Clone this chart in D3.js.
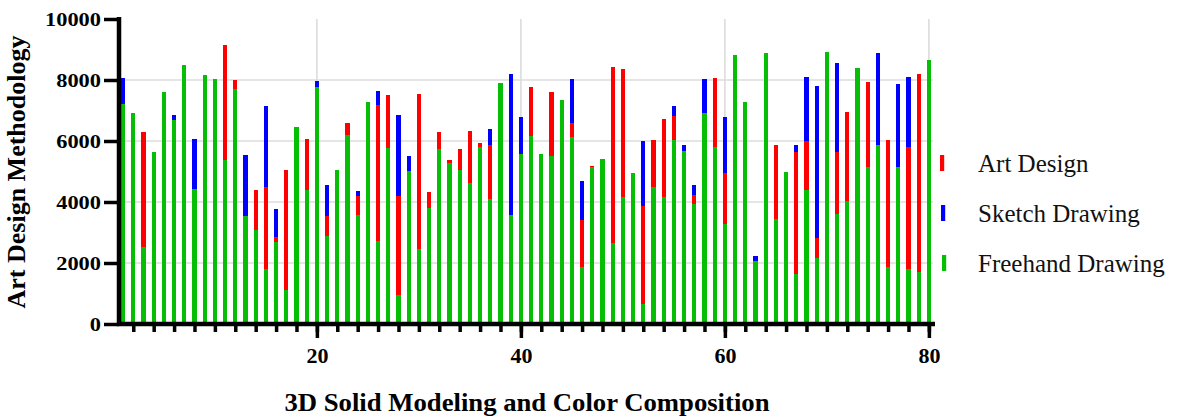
<!DOCTYPE html>
<html>
<head>
<meta charset="utf-8">
<script src="https://cdn.jsdelivr.net/npm/d3@7"></script>
<style>
  html, body { margin: 0; padding: 0; background: #ffffff; }
  svg { display: block; }
</style>
</head>
<body>
<svg id="chart" width="1178" height="417"></svg>
<script>
// ---- data ----
const categories = d3.range(1, 81);
const seriesNames = ["Art Design", "Sketch Drawing", "Freehand Drawing"];
const seriesColors = ["#ff0000", "#0000ff", "#06be06"];

const freehandDrawing = [
  7210, 6920, 2520, 5640, 7610, 6690, 8490, 4430, 8160, 8030,
  5380, 7690, 3540, 3090, 1800, 2690, 1110, 6460, 4390, 7770,
  2890, 5050, 6200, 3570, 7280, 2720, 5780, 950, 5020, 2460,
  3800, 5740, 5280, 5050, 4620, 5800, 4100, 7900, 3570, 5570,
  6160, 5570, 5510, 7340, 6130, 1870, 5150, 5410, 2660, 4160,
  4950, 660, 4490, 4160, 6030, 5670, 3930, 6920, 5800, 3280,
  8820, 7280, 2070, 8890, 3440, 4980, 1640, 4390, 2160, 8920,
  3610, 4030, 8390, 5150, 5870, 1870, 5150, 1800, 1700, 8660
];
const sketchDrawing = [
  8070, 3100, 4800, 2900, 5300, 6850, 5800, 6070, 3500, 6200,
  6620, 5100, 5540, 2800, 7150, 3770, 4100, 3800, 5200, 7970,
  4560, 2700, 3300, 4360, 4600, 7640, 6900, 6850, 5510, 5600,
  3100, 4900, 2300, 4300, 5000, 3700, 6390, 5200, 8200, 6790,
  5100, 3600, 4000, 6100, 8030, 4690, 2500, 4400, 6300, 7200,
  3800, 6000, 3900, 5500, 7150, 5870, 4560, 8030, 6700, 6790,
  5600, 3970, 2230, 6400, 4700, 3900, 5870, 8100, 7800, 7400,
  8560, 5800, 4800, 7000, 8890, 5200, 7870, 8100, 6900, 6300
];
const artDesign = [
  4200, 5200, 6300, 4100, 3600, 2400, 6100, 3900, 7300, 4700,
  9150, 8000, 2600, 4390, 4490, 2850, 5050, 5500, 6070, 4300,
  3540, 4400, 6590, 4210, 5900, 7180, 7510, 4210, 3300, 7540,
  4330, 6300, 5380, 5740, 6330, 5930, 5870, 6400, 2900, 3800,
  7770, 4800, 7610, 5200, 6590, 3410, 5180, 3900, 8430, 8360,
  2700, 3870, 6030, 6720, 6820, 3400, 4230, 5100, 8070, 4950,
  7100, 3110, 1500, 4500, 5870, 2600, 5640, 6000, 2820, 6300,
  5640, 6950, 6600, 7930, 4200, 6030, 3900, 5800, 8200, 7500
];
const yTickValues = [0, 2000, 4000, 6000, 8000, 10000];
const xMajorTicks = [20, 40, 60, 80];
const xMinorTicks = d3.range(2, 81, 2);

// ---- layout ----
const svg = d3.select("#chart");
const x = d3.scaleLinear().domain([0.6, 80.6]).range([119, 935]);
const y = d3.scaleLinear().domain([0, 10000]).range([324, 19]);
const barW = 4.2;
const serif = "'Liberation Serif', 'Times New Roman', serif";

// gridlines
const grid = svg.append("g");
grid.selectAll("line.h").data(yTickValues.filter(v => v > 0 && v < 10000)).enter()
  .append("line")
  .attr("x1", x.range()[0]).attr("x2", 933)
  .attr("y1", d => y(d)).attr("y2", d => y(d))
  .attr("stroke", "#dcdcdc").attr("stroke-width", 1.6);
grid.selectAll("line.v").data(xMajorTicks).enter()
  .append("line")
  .attr("x1", d => x(d)).attr("x2", d => x(d))
  .attr("y1", y(10000)).attr("y2", y(0))
  .attr("stroke", "#dcdcdc").attr("stroke-width", 1.6);

// bars (overlapping, drawn from zero): blue behind, red, green in front
const layers = [
  { values: sketchDrawing, color: seriesColors[1] },
  { values: artDesign, color: seriesColors[0] },
  { values: freehandDrawing, color: seriesColors[2] }
];
layers.forEach(layer => {
  svg.append("g").selectAll("rect").data(categories).enter()
    .append("rect")
    .attr("x", d => x(d) - barW / 2)
    .attr("width", barW)
    .attr("y", (d, i) => y(layer.values[i]))
    .attr("height", (d, i) => y(0) - y(layer.values[i]))
    .attr("fill", layer.color)
    .attr("shape-rendering", "crispEdges");
});

// y axis
const yAxis = svg.append("g")
  .attr("transform", `translate(${x.range()[0]},0)`)
  .call(d3.axisLeft(y).tickValues(yTickValues).tickSize(15).tickSizeOuter(0).tickPadding(3).tickFormat(d3.format("d")));
yAxis.select(".domain").attr("stroke", "#000").attr("stroke-width", 4.5)
  .attr("d", `M0,${y(10000) - 2}V${y(0) + 2}`);
yAxis.selectAll(".tick line").attr("stroke", "#000").attr("stroke-width", 3.5);
yAxis.selectAll(".tick text")
  .attr("font-family", serif).attr("font-weight", "bold").attr("font-size", 19.5)
  .attr("fill", "#000")
  .attr("textLength", d => String(d).length * 11.2)
  .attr("lengthAdjust", "spacingAndGlyphs");

// x axis: minor ticks
const xMinor = svg.append("g")
  .attr("transform", `translate(0,${y(0)})`)
  .call(d3.axisBottom(x).tickValues(xMinorTicks).tickSize(8).tickSizeOuter(0).tickFormat(""));
xMinor.select(".domain").attr("stroke", "#000").attr("stroke-width", 4.5)
  .attr("d", `M${x.range()[0] - 2},0H${x.range()[1]}`);
xMinor.selectAll(".tick line").attr("stroke", "#000").attr("stroke-width", 3.5);

// x axis: major ticks with labels
const xMajor = svg.append("g")
  .attr("transform", `translate(0,${y(0)})`)
  .call(d3.axisBottom(x).tickValues(xMajorTicks).tickSize(14).tickSizeOuter(0).tickPadding(9).tickFormat(d3.format("d")));
xMajor.select(".domain").remove();
xMajor.selectAll(".tick line").attr("stroke", "#000").attr("stroke-width", 3.5);
xMajor.selectAll(".tick text")
  .attr("font-family", serif).attr("font-weight", "bold").attr("font-size", 22)
  .attr("fill", "#000");

// axis titles
svg.append("text")
  .attr("x", 527).attr("y", 411)
  .attr("text-anchor", "middle")
  .attr("font-family", serif).attr("font-weight", "bold").attr("font-size", 26)
  .attr("textLength", 485).attr("lengthAdjust", "spacingAndGlyphs")
  .text("3D Solid Modeling and Color Composition");

svg.append("text")
  .attr("transform", "translate(25,172) rotate(-90)")
  .attr("text-anchor", "middle")
  .attr("font-family", serif).attr("font-weight", "bold").attr("font-size", 26)
  .text("Art Design Methodology");

// legend
const legendY = [163, 213, 263];
const legend = svg.append("g");
seriesNames.forEach((name, i) => {
  legend.append("rect")
    .attr("x", 940 + (i === 2 ? 2 : i) * 1).attr("y", legendY[i] - 8)
    .attr("width", 4.2).attr("height", 16)
    .attr("fill", seriesColors[i]);
  legend.append("text")
    .attr("x", 978).attr("y", legendY[i] + 9)
    .attr("font-family", serif).attr("font-size", 25)
    .attr("fill", "#111")
    .text(name);
});
</script>
</body>
</html>
